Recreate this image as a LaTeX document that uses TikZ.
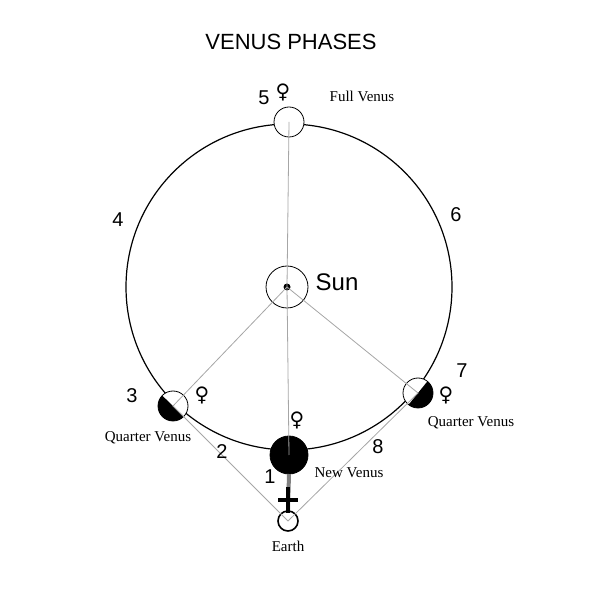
\documentclass[tikz,border=0pt]{standalone}
\usepackage{fontspec}
\setmainfont{Liberation Serif}
\setsansfont{Liberation Sans}
\newfontfamily\symfont{DejaVu Sans}
\begin{document}
\begin{tikzpicture}[x=0.5pt, y=0.5pt,
    planet/.style={circle, draw, fill=white, inner sep=0pt, outer sep=0pt, minimum size=#1},
    ray/.style={gray!70, line width=0.4pt},
    num/.style={font=\sffamily\fontsize{10}{12}\selectfont},
    lbl/.style={font=\fontsize{7.5}{9}\selectfont},
    vsym/.style={font=\symfont\bfseries\fontsize{10}{12}\selectfont}]
    \useasboundingbox (0,0) rectangle (600,611);
    % Orbit
    \draw[line width=0.6pt] (289,324) circle (163);
    % Bodies
    \node[planet=21pt] (sun) at (287,324) {};
    \fill (sun.center) circle (3.5);
    \node[planet=15pt] (full) at (289,489) {};
    \node[planet=19pt, fill=black] (new) at (289,156) {};
    \node[planet=15pt] (qleft) at (173,205) {};
    \node[planet=15pt] (qright) at (418,218) {};
    \node[planet=10pt, line width=0.8pt] (earth) at (288,90) {};
    % Dark halves
    \fill (qleft.136) arc[start angle=136, end angle=316, radius=7.5pt] -- cycle;
    \fill (qright.231) arc[start angle=231, end angle=411, radius=7.5pt] -- cycle;
    % Sight lines
    \draw[ray] (sun.center) -- (full.center);
    \draw[ray] (sun.center) -- (qleft.center) -- (earth.center);
    \draw[ray] (sun.center) -- (qright.center) -- (earth.center);
    \draw[ray] (sun.center) -- (new.center);
    \draw[gray, line width=2pt] (new.south) -- (earth.north);
    \draw[line width=1.6pt] (288,98) -- (288,124) (278,111) -- (298,111);
    % Labels
    \node (title) at (291,569) {\sffamily\fontsize{11}{13}\selectfont VENUS PHASES};
    \node[font=\sffamily\fontsize{12}{14}\selectfont] (sunlbl) at (337,329) {Sun};
    \node[lbl] (fulllbl) at (362,515) {Full Venus};
    \node[lbl] (qllbl) at (148,173) {Quarter Venus};
    \node[lbl] (qrlbl) at (471,188) {Quarter Venus};
    \node[lbl] (newlbl) at (349,138) {New Venus};
    \node[lbl] (earthlbl) at (288,65) {Earth};
    \foreach \n/\px/\py in {5/264/513, 4/118/391, 6/456/396, 3/132/215, 7/462/240, 2/222/159, 1/270/134, 8/378/164}
        \node[num] (n\n) at (\px,\py) {\n};
    \foreach \px/\py [count=\i] in {283/519, 202/216, 446/216, 297/191}
        \node[vsym] (sym\i) at (\px,\py) {♀};
\end{tikzpicture}
\end{document}
